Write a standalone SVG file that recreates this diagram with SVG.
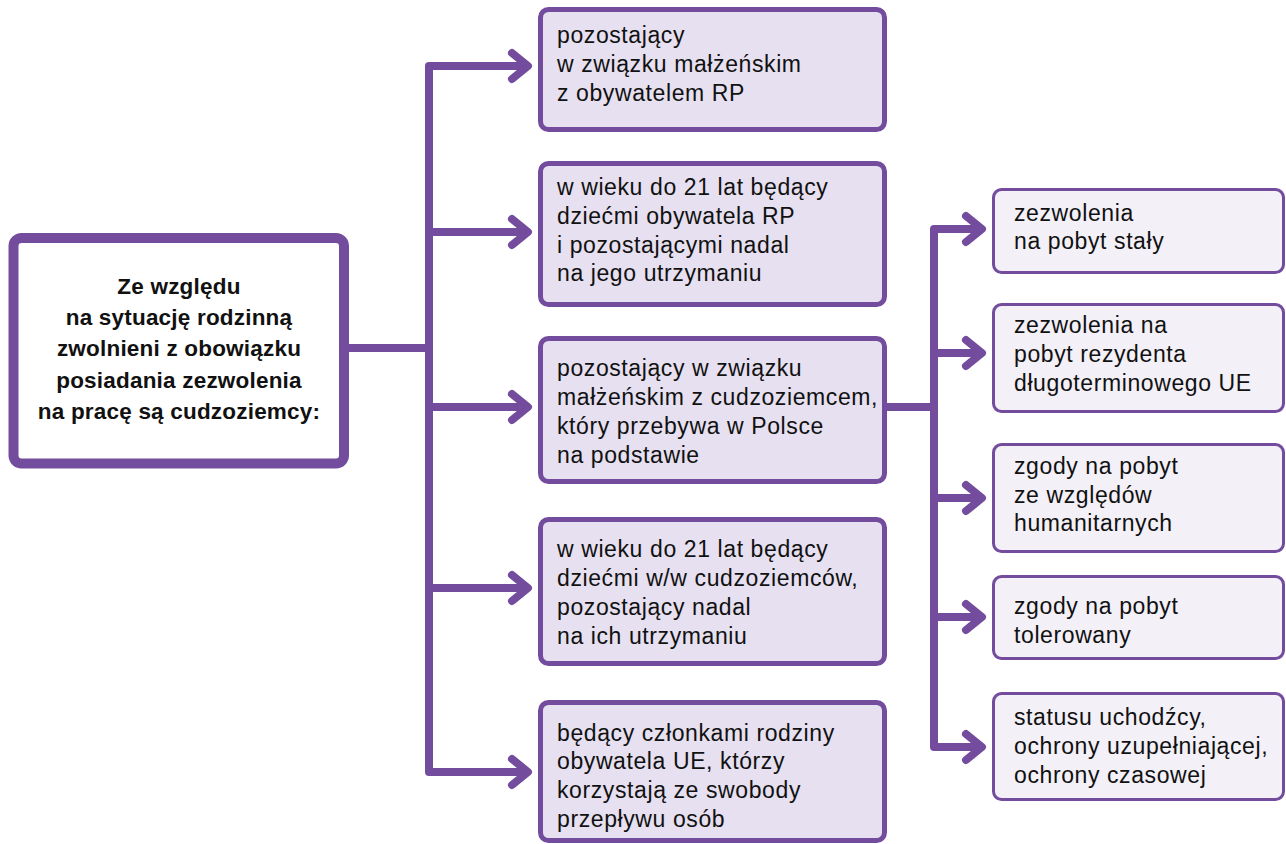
<svg xmlns="http://www.w3.org/2000/svg" width="1286" height="844" viewBox="0 0 1286 844">
<style>
.main{fill:#ffffff;stroke:#744c9e;stroke-width:10}
.lbox{fill:#e6e0f0;stroke:#744c9e;stroke-width:5}
.rbox{fill:#f3f0f8;stroke:#744c9e;stroke-width:3}
.con{fill:none;stroke:#744c9e;stroke-width:8;stroke-linejoin:round;stroke-linecap:butt}
.head{fill:none;stroke:#744c9e;stroke-width:8;stroke-linejoin:round;stroke-linecap:round}
text{font-family:"Liberation Sans",Arial,Helvetica,sans-serif;fill:#111111}
.t{font-size:23px;letter-spacing:0.6px}
.b{font-size:22.5px;font-weight:bold;text-anchor:middle;letter-spacing:0.2px}
</style>
<g id="connectors">
<path class="con" d="M349 348 H429"/>
<path class="con" d="M528 66 H429 V772 H528"/>
<path class="con" d="M429 232 H528"/>
<path class="con" d="M429 407 H528"/>
<path class="con" d="M429 588 H528"/>
<path class="head" d="M512 53 L528 66 L512 79"/>
<path class="head" d="M512 219 L528 232 L512 245"/>
<path class="head" d="M512 394 L528 407 L512 420"/>
<path class="head" d="M512 575 L528 588 L512 601"/>
<path class="head" d="M512 759 L528 772 L512 785"/>
<path class="con" d="M886 407 H934"/>
<path class="con" d="M982 229 H934 V747 H982"/>
<path class="con" d="M934 353 H982"/>
<path class="con" d="M934 498 H982"/>
<path class="con" d="M934 617 H982"/>
<path class="head" d="M966 216 L982 229 L966 242"/>
<path class="head" d="M966 340 L982 353 L966 366"/>
<path class="head" d="M966 485 L982 498 L966 511"/>
<path class="head" d="M966 604 L982 617 L966 630"/>
<path class="head" d="M966 734 L982 747 L966 760"/>
</g>
<g id="main">
<rect class="main" x="13.5" y="238" width="330.5" height="225.5" rx="8"/>
<text class="b" x="179" y="294">Ze względu</text>
<text class="b" x="179" y="325">na sytuację rodzinną</text>
<text class="b" x="179" y="356">zwolnieni z obowiązku</text>
<text class="b" x="179" y="388">posiadania zezwolenia</text>
<text class="b" x="179" y="419">na pracę są cudzoziemcy:</text>
</g>
<g id="box1">
<rect class="lbox" x="540.5" y="9.5" width="344" height="120" rx="8"/>
<text class="t" x="557" y="43">pozostający</text>
<text class="t" x="557" y="72">w związku małżeńskim</text>
<text class="t" x="557" y="101">z obywatelem RP</text>
</g>
<g id="box2">
<rect class="lbox" x="540.5" y="163.5" width="344" height="141" rx="8"/>
<text class="t" x="557" y="195">w wieku do 21 lat będący</text>
<text class="t" x="557" y="224">dziećmi obywatela RP</text>
<text class="t" x="557" y="253">i pozostającymi nadal</text>
<text class="t" x="557" y="281">na jego utrzymaniu</text>
</g>
<g id="box3">
<rect class="lbox" x="540.5" y="338.5" width="344" height="143" rx="8"/>
<text class="t" x="557" y="376">pozostający w związku</text>
<text class="t" x="557" y="405">małżeńskim z cudzoziemcem,</text>
<text class="t" x="557" y="434">który przebywa w Polsce</text>
<text class="t" x="557" y="463">na podstawie</text>
</g>
<g id="box4">
<rect class="lbox" x="540.5" y="519.5" width="344" height="144" rx="8"/>
<text class="t" x="557" y="557">w wieku do 21 lat będący</text>
<text class="t" x="557" y="586">dziećmi w/w cudzoziemców,</text>
<text class="t" x="557" y="615">pozostający nadal</text>
<text class="t" x="557" y="644">na ich utrzymaniu</text>
</g>
<g id="box5">
<rect class="lbox" x="540.5" y="702.5" width="344" height="138" rx="8"/>
<text class="t" x="557" y="741">będący członkami rodziny</text>
<text class="t" x="557" y="769">obywatela UE, którzy</text>
<text class="t" x="557" y="798">korzystają ze swobody</text>
<text class="t" x="557" y="827">przepływu osób</text>
</g>
<g id="r1">
<rect class="rbox" x="993.5" y="189.5" width="290" height="83" rx="8"/>
<text class="t" x="1014" y="221">zezwolenia</text>
<text class="t" x="1014" y="249">na pobyt stały</text>
</g>
<g id="r2">
<rect class="rbox" x="993.5" y="304.5" width="290" height="107" rx="8"/>
<text class="t" x="1014" y="333">zezwolenia na</text>
<text class="t" x="1014" y="362">pobyt rezydenta</text>
<text class="t" x="1014" y="391">długoterminowego UE</text>
</g>
<g id="r3">
<rect class="rbox" x="993.5" y="444.5" width="290" height="107" rx="8"/>
<text class="t" x="1014" y="474">zgody na pobyt</text>
<text class="t" x="1014" y="503">ze względów</text>
<text class="t" x="1014" y="531">humanitarnych</text>
</g>
<g id="r4">
<rect class="rbox" x="993.5" y="576.5" width="290" height="82" rx="8"/>
<text class="t" x="1014" y="614">zgody na pobyt</text>
<text class="t" x="1014" y="643">tolerowany</text>
</g>
<g id="r5">
<rect class="rbox" x="993.5" y="693.5" width="290" height="106" rx="8"/>
<text class="t" x="1014" y="725">statusu uchodźcy,</text>
<text class="t" x="1014" y="754">ochrony uzupełniającej,</text>
<text class="t" x="1014" y="783">ochrony czasowej</text>
</g>
</svg>
